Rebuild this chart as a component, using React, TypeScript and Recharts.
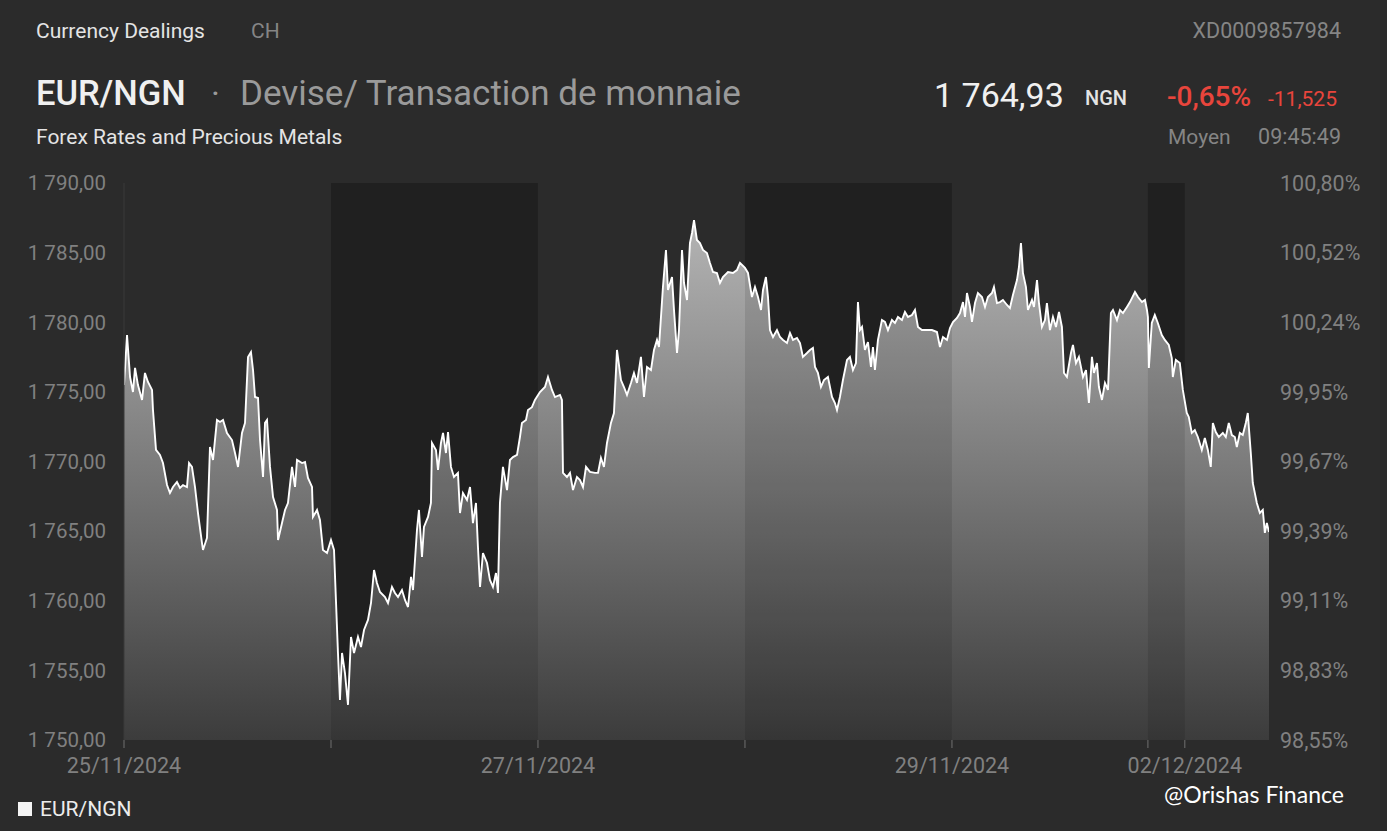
import React from 'react';
import { ComposedChart, Area, Line, XAxis, YAxis, ReferenceArea } from 'recharts';

type Pt = [number, number];

// [hour of session day, EUR/NGN rate]
const day25: Pt[] = [
  [0, 1775.49], [0.35, 1779.08], [0.7, 1776.07], [1.04, 1774.99], [1.28, 1776.72], [1.62, 1775.49],
  [2.09, 1774.42], [2.43, 1776.36], [2.78, 1775.71], [3.25, 1775.14], [3.36, 1773.7], [3.71, 1770.83],
  [4.17, 1770.47], [4.52, 1769.89], [4.99, 1768.31], [5.33, 1767.74], [5.68, 1768.17], [6.14, 1768.53],
  [6.49, 1768.1], [6.84, 1768.31], [7.3, 1768.17], [7.54, 1769.89], [7.88, 1769.61], [8.23, 1768.17],
  [8.58, 1766.3], [9.04, 1764.15], [9.16, 1763.65], [9.62, 1764.51], [9.97, 1771.04], [10.32, 1770.11],
  [10.78, 1772.98], [11.13, 1772.84], [11.48, 1772.98], [11.94, 1772.05], [12.52, 1771.54], [12.87, 1770.61],
  [13.22, 1769.61], [13.68, 1772.05], [14.03, 1772.77], [14.38, 1777.51], [14.72, 1777.86], [14.96, 1776.57],
  [15.19, 1774.63], [15.54, 1774.56], [15.77, 1771.54], [16.12, 1768.89], [16.35, 1772.77], [16.58, 1772.98],
  [16.93, 1769.61], [17.28, 1767.45], [17.74, 1766.52], [17.86, 1764.36], [18.32, 1765.58], [18.67, 1766.52],
  [19.01, 1767.02], [19.48, 1769.61], [19.83, 1768.17], [20.06, 1770.11], [20.64, 1769.89], [20.99, 1769.96],
  [21.33, 1768.82], [21.8, 1768.17], [21.91, 1766.02], [22.38, 1766.52], [22.72, 1765.8], [23.07, 1763.65],
  [23.54, 1763.43],
];

const day26: Pt[] = [
  [0, 1764.36], [0.35, 1763.65], [0.81, 1756.25], [1.04, 1752.87], [1.28, 1756.25], [1.62, 1754.81],
  [1.97, 1752.52], [2.32, 1757.4], [2.67, 1756.25], [3.13, 1757.4], [3.48, 1756.68], [3.83, 1757.9],
  [4.29, 1758.62], [4.64, 1759.84], [4.99, 1762.21], [5.33, 1761.28], [5.68, 1760.63], [6.26, 1760.27],
  [6.61, 1759.84], [7.07, 1760.99], [7.42, 1760.56], [7.77, 1760.27], [8.23, 1760.77], [8.58, 1760.06],
  [8.93, 1759.55], [9.28, 1761.71], [9.51, 1760.77], [9.97, 1765.08], [10.2, 1766.52], [10.55, 1763.14],
  [10.78, 1765.3], [11.25, 1766.02], [11.59, 1767.02], [11.71, 1771.33], [12.17, 1770.83], [12.41, 1769.39],
  [12.75, 1771.33], [12.99, 1772.05], [13.33, 1770.61], [13.57, 1772.12], [13.91, 1769.61], [14.26, 1768.89],
  [14.72, 1769.18], [14.96, 1766.3], [15.3, 1767.74], [15.77, 1767.24], [16.12, 1768.17], [16.46, 1765.58],
  [16.81, 1767.02], [17.04, 1763.86], [17.28, 1760.99], [17.62, 1763.43], [18.09, 1762.71], [18.43, 1761.49],
  [18.78, 1760.99], [19.13, 1761.99], [19.36, 1760.56], [19.59, 1767.02], [19.94, 1769.61], [20.41, 1767.95],
  [20.75, 1770.11], [21.1, 1770.32], [21.57, 1770.47], [21.91, 1771.76], [22.14, 1772.77], [22.61, 1772.98],
  [22.84, 1773.7], [23.3, 1773.9], [23.65, 1774.42],
];

const day27: Pt[] = [
  [0.23, 1774.99], [0.81, 1775.35], [1.16, 1776.07], [1.62, 1775.14], [1.97, 1774.63], [2.55, 1774.78],
  [2.78, 1774.42], [2.9, 1769.18], [3.36, 1768.89], [3.71, 1769.18], [4.06, 1767.95], [4.52, 1768.89],
  [4.87, 1768.67], [5.22, 1768.17], [5.57, 1769.61], [6.03, 1769.25], [6.61, 1769.18], [6.96, 1769.18],
  [7.3, 1770.25], [7.65, 1769.61], [8.0, 1771.33], [8.46, 1772.77], [8.81, 1773.48], [9.16, 1778.01],
  [9.62, 1775.85], [9.97, 1775.35], [10.32, 1774.78], [10.78, 1775.64], [11.13, 1776.36], [11.48, 1775.64],
  [11.94, 1777.51], [12.29, 1774.63], [12.64, 1776.79], [13.1, 1776.57], [13.45, 1778.01], [13.8, 1778.73],
  [14.03, 1778.22], [14.49, 1782.53], [14.84, 1785.19], [15.07, 1782.32], [15.54, 1783.25], [15.77, 1780.88],
  [16.12, 1777.79], [16.35, 1779.44], [16.7, 1785.19], [16.93, 1782.82], [17.28, 1781.6], [17.62, 1785.69],
  [17.86, 1786.41], [18.09, 1787.34], [18.43, 1785.91], [18.78, 1785.69], [19.13, 1785.19], [19.59, 1784.97],
  [19.94, 1784.26], [20.29, 1783.61], [20.75, 1783.54], [21.1, 1782.82], [21.45, 1783.25], [22.03, 1783.61],
  [22.61, 1783.54], [23.07, 1783.75], [23.42, 1784.26],
];

const day28: Pt[] = [
  [0, 1783.9], [0.35, 1783.54], [0.81, 1781.81], [1.16, 1782.53], [1.51, 1781.81], [1.86, 1780.88],
  [2.09, 1782.32], [2.43, 1783.25], [2.67, 1781.81], [2.9, 1779.44], [3.25, 1778.94], [3.71, 1779.44],
  [4.06, 1778.94], [4.41, 1778.73], [4.87, 1778.51], [5.22, 1779.23], [5.57, 1778.73], [6.03, 1778.87],
  [6.38, 1778.51], [6.72, 1777.51], [7.19, 1777.79], [7.54, 1778.01], [7.88, 1778.15], [8.12, 1776.79],
  [8.46, 1776.36], [8.81, 1775.35], [9.16, 1775.85], [9.62, 1776.07], [10.09, 1774.63], [10.43, 1774.2],
  [10.67, 1773.7], [11.01, 1774.63], [11.36, 1775.85], [11.83, 1777.29], [12.17, 1777.51], [12.52, 1776.57],
  [12.87, 1777.07], [13.1, 1781.45], [13.33, 1779.44], [13.57, 1779.66], [13.91, 1778.01], [14.26, 1778.58],
  [14.61, 1776.79], [14.84, 1778.22], [15.07, 1776.57], [15.42, 1778.73], [15.88, 1780.16], [16.23, 1780.02],
  [16.58, 1779.44], [17.04, 1780.16], [17.39, 1779.95], [17.74, 1780.38], [18.2, 1780.16], [18.55, 1780.74],
  [18.9, 1780.38], [19.36, 1780.52], [19.71, 1780.88], [20.06, 1779.66], [20.52, 1779.44], [21.1, 1779.44],
  [21.68, 1779.44], [22.26, 1779.3], [22.61, 1778.22], [22.96, 1778.94], [23.42, 1778.73], [23.77, 1779.59],
];

const day29: Pt[] = [
  [0.12, 1780.02], [0.58, 1780.31], [0.93, 1780.66], [1.28, 1781.45], [1.51, 1780.38], [1.74, 1782.1],
  [2.09, 1781.1], [2.32, 1780.02], [2.67, 1781.38], [3.01, 1782.1], [3.48, 1781.81], [3.83, 1781.1],
  [4.17, 1781.81], [4.64, 1782.1], [4.87, 1782.53], [5.22, 1781.38], [5.57, 1781.45], [5.91, 1781.6],
  [6.38, 1781.24], [6.72, 1781.02], [7.07, 1781.96], [7.54, 1783.03], [7.77, 1783.97], [8.0, 1785.69],
  [8.23, 1783.54], [8.58, 1782.53], [8.81, 1780.88], [9.28, 1781.6], [9.51, 1781.1], [9.86, 1783.03],
  [10.09, 1781.38], [10.43, 1779.66], [10.78, 1780.16], [11.01, 1781.38], [11.36, 1779.44], [11.71, 1780.38],
  [12.06, 1779.66], [12.41, 1780.74], [12.75, 1779.66], [12.99, 1776.36], [13.33, 1776.07], [13.8, 1777.79],
  [14.03, 1778.37], [14.38, 1777.07], [14.72, 1777.51], [15.19, 1776.07], [15.54, 1776.57], [15.88, 1774.2],
  [16.23, 1777.51], [16.46, 1776.36], [16.81, 1777.07], [17.04, 1775.35], [17.39, 1774.42], [17.74, 1775.64],
  [18.09, 1775.14], [18.43, 1780.66], [18.67, 1780.88], [19.13, 1780.16], [19.48, 1780.88], [19.83, 1780.66],
  [20.29, 1781.1], [20.64, 1781.45], [21.22, 1782.17], [21.57, 1781.81], [22.03, 1781.45], [22.38, 1781.6],
  [22.61, 1780.88], [22.72, 1780.38],
];

const day01: Pt[] = [
  [19.83, 1776.72], [20.17, 1779.95], [20.52, 1780.52], [20.87, 1779.95], [21.33, 1779.08], [21.68, 1778.73],
  [22.14, 1778.37], [22.49, 1777.43], [22.61, 1776.07], [22.96, 1777.29], [23.42, 1777.07], [23.77, 1775.14],
];

const day02: Pt[] = [
  [0.23, 1773.48], [0.46, 1773.2], [0.81, 1772.05], [1.16, 1772.26], [1.51, 1771.76], [1.97, 1770.83],
  [2.32, 1771.69], [2.67, 1770.83], [3.01, 1769.61], [3.25, 1772.77], [3.59, 1772.12], [3.94, 1771.76],
  [4.41, 1772.05], [4.75, 1771.76], [5.1, 1772.77], [5.45, 1771.9], [5.8, 1771.76], [6.03, 1771.04],
  [6.38, 1772.05], [6.72, 1771.9], [7.07, 1772.77], [7.3, 1773.48], [7.65, 1770.61], [7.88, 1768.46],
  [8.35, 1767.02], [8.7, 1766.3], [9.04, 1766.52], [9.28, 1764.87], [9.51, 1765.58], [9.76, 1764.93],
];

// session start on the compressed trading-time axis (hours)
const sessionOffsets = [0, 24, 48, 72, 96, 99, 123];
const sessionDays = [day25, day26, day27, day28, day29, day01, day02];

const darkSessions: [number, number][] = [[24, 48], [72, 96], [118.72, 123]];

const xTicks = [0, 24, 48, 72, 96, 118.72, 123];
const xTickLabels = ['25/11/2024', '', '27/11/2024', '', '29/11/2024', '', '02/12/2024'];
const xEnd = 132.76;

const yTicks = [1750, 1755, 1760, 1765, 1770, 1775, 1780, 1785, 1790];
const yTickLabels = ['1 750,00', '1 755,00', '1 760,00', '1 765,00', '1 770,00', '1 775,00', '1 780,00', '1 785,00', '1 790,00'];
const pctTickLabels = ['98,55%', '98,83%', '99,11%', '99,39%', '99,67%', '99,95%', '100,24%', '100,52%', '100,80%'];

const data = sessionDays.flatMap((pts, i) => pts.map(([h, v]) => ({ t: +(sessionOffsets[i] + h).toFixed(2), v })));

const FONT = 'Roboto, "Noto Sans", sans-serif';
const AXIS_GREY = '#808080';

function T(props: { x?: number; right?: number; cy: number; size: number; color: string; weight?: number; font?: string; children: React.ReactNode }) {
  const { x, right, cy, size, color, weight = 400, font = FONT, children } = props;
  const style: React.CSSProperties = {
    position: 'absolute',
    top: cy - size / 2,
    fontSize: size,
    lineHeight: `${size}px`,
    color,
    fontWeight: weight,
    fontFamily: font,
    whiteSpace: 'nowrap',
  };
  if (x !== undefined) style.left = x;
  if (right !== undefined) style.right = right;
  return <div style={style}>{children}</div>;
}

export default function App() {
  return (
    <div style={{ position: 'absolute', left: 0, top: 0, width: 1387, height: 831, background: '#2b2b2b', overflow: 'hidden', fontFamily: FONT }}>
      <ComposedChart width={1387} height={831} data={data} margin={{ top: 183, right: 0, bottom: 0, left: 0 }}>
        <defs>
          <linearGradient id="fillGrad" x1="0" y1="0" x2="0" y2="1">
            <stop offset="0" stopColor="#b4b4b4" />
            <stop offset="1" stopColor="#3c3c3c" />
          </linearGradient>
        </defs>
        <XAxis
          dataKey="t"
          type="number"
          domain={[0, xEnd]}
          ticks={xTicks}
          interval={0}
          height={91}
          axisLine={false}
          tickLine={{ stroke: '#707070' }}
          tickSize={8}
          tickMargin={10}
          tick={{ fill: AXIS_GREY, fontSize: 21.5, fontFamily: FONT }}
          tickFormatter={(v: number) => xTickLabels[xTicks.indexOf(v)] ?? ''}
          allowDataOverflow
        />
        <YAxis
          yAxisId="left"
          orientation="left"
          width={124}
          domain={[1750, 1790]}
          ticks={yTicks}
          interval={0}
          axisLine={{ stroke: '#3a3a3a' }}
          tickLine={false}
          tickSize={6}
          tickMargin={12}
          tick={{ fill: AXIS_GREY, fontSize: 20.5, fontFamily: FONT }}
          tickFormatter={(v: number) => yTickLabels[yTicks.indexOf(v)] ?? ''}
          allowDataOverflow
        />
        <YAxis
          yAxisId="right"
          orientation="right"
          width={118}
          domain={[1750, 1790]}
          ticks={yTicks}
          interval={0}
          axisLine={false}
          tickLine={false}
          tickSize={6}
          tickMargin={5}
          tick={{ fill: AXIS_GREY, fontSize: 21.5, fontFamily: FONT, textAnchor: 'start' }}
          tickFormatter={(v: number) => pctTickLabels[yTicks.indexOf(v)] ?? ''}
          allowDataOverflow
        />
        {darkSessions.map(([a, b], i) => (
          <ReferenceArea key={`bg${i}`} yAxisId="left" x1={a} x2={b} y1={1750} y2={1790} fill="#000" fillOpacity={0.14} stroke="none" ifOverflow="visible" />
        ))}
        <Area
          yAxisId="left"
          type="linear"
          dataKey="v"
          stroke="none"
          fill="url(#fillGrad)"
          fillOpacity={1}
          isAnimationActive={false}
          dot={false}
          activeDot={false}
        />
        {darkSessions.map(([a, b], i) => (
          <ReferenceArea key={`fg${i}`} yAxisId="left" x1={a} x2={b} y1={1750} y2={1790} fill="#000" fillOpacity={0.1} stroke="none" ifOverflow="visible" />
        ))}
        <Line
          yAxisId="left"
          type="linear"
          dataKey="v"
          stroke="#ffffff"
          strokeWidth={1.9}
          dot={false}
          activeDot={false}
          isAnimationActive={false}
        />
      </ComposedChart>

      <T x={36} cy={31} size={21} color="#e4e4e4">Currency Dealings</T>
      <T x={251} cy={31} size={21} color="#858585">CH</T>
      <T right={46} cy={31} size={21.5} color="#858585">XD0009857984</T>

      <T x={36} cy={93} size={34.5} color="#f0f0f0" weight={500}>EUR/NGN</T>
      <T x={211} cy={93} size={34} color="#9a9a9a">·</T>
      <T x={240} cy={93} size={35} color="#9a9a9a">Devise/ Transaction de monnaie</T>

      <T x={934} cy={95} size={34} color="#f0f0f0">1 764,93</T>
      <T x={1085} cy={98} size={20} color="#e4e4e4" weight={500}>NGN</T>
      <T x={1167} cy={97} size={28} color="#e8453c" weight={500}>-0,65%</T>
      <T x={1268} cy={99} size={21} color="#e8453c">-11,525</T>

      <T x={36} cy={137} size={21} color="#e4e4e4">Forex Rates and Precious Metals</T>
      <T x={1168} cy={137} size={21} color="#858585">Moyen</T>
      <T right={46} cy={137} size={21.5} color="#858585">09:45:49</T>

      <div style={{ position: 'absolute', left: 18, top: 802, width: 14, height: 14, background: '#f4f4f4' }} />
      <T x={40} cy={809} size={21} color="#ececec">EUR/NGN</T>

      <T x={1164} cy={794} size={23} color="#ffffff" font='Lato, "Open Sans", sans-serif'>@Orishas Finance</T>
    </div>
  );
}
